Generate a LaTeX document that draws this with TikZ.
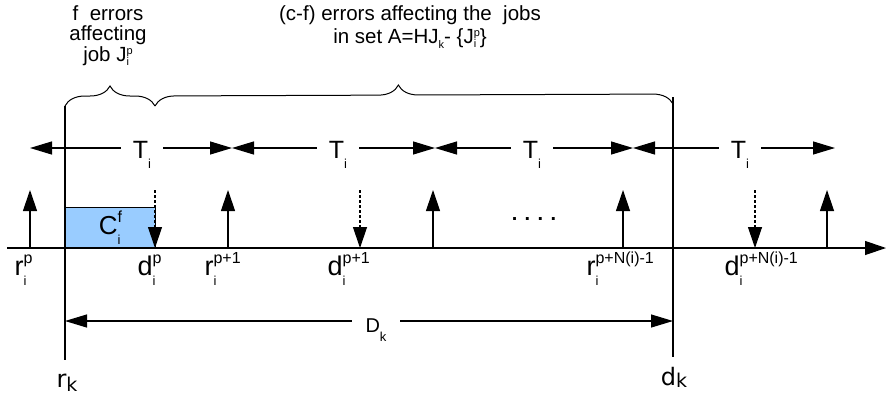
\documentclass[tikz,border=0pt]{standalone}
\usepackage{fontspec}
\setmainfont{Liberation Sans}
\newfontfamily\dejavu{DejaVu Sans}
\usetikzlibrary{arrows.meta,decorations.pathreplacing}

\definecolor{boxblue}{HTML}{99CCFF}

\newcommand{\subfont}{\fontsize{13}{13}\selectfont}
\newcommand{\supfont}{\fontsize{16}{16}\selectfont}
\newcommand{\ix}[3]{#1\rlap{\raisebox{-10pt}{\subfont #2}}\raisebox{12pt}{\supfont #3}}
\newcommand{\sub}[2]{#1\raisebox{-10pt}{\subfont #2}}
\newcommand{\txfont}{\fontsize{11}{11}\selectfont}
\newcommand{\tx}[3]{#1\rlap{\raisebox{-4pt}{\txfont #2}}\raisebox{7pt}{\txfont #3}}

\begin{document}
\begin{tikzpicture}[x=1pt,y=-1pt,line width=1.2pt,
  arr/.style={-{Triangle[length=21pt,width=14pt]}},
  period/.style={{Triangle[length=22pt,width=13pt]}-{Triangle[length=22pt,width=13pt]}},
  due/.style={arr,dash pattern=on 3pt off 2pt},
  gap/.style={fill=white,inner xsep=12pt,inner ysep=2pt,anchor=base},
  lbl/.style={anchor=base west,inner sep=0pt,font=\fontsize{27}{27}\selectfont},
  curly/.style={decorate,decoration={brace,amplitude=20pt}}]
\useasboundingbox (0,0) rectangle (890,397);

% execution of the job
\node[draw,line width=0.8pt,fill=boxblue,anchor=south west,minimum width=90pt,minimum height=40pt,inner sep=0pt,font=\fontsize{26}{26}\selectfont] (cbox) at (65,248) {\ix{C}{i}{f}};

% time axis
\coordinate (a0) at (7,248);
\coordinate (a1) at (886,248);
\draw[arr] (a0) -- (a1);

% release times
\foreach \x/\n in {30/1,228/2,433/3,623/4,827/5} {
  \coordinate (r\n) at (\x,248);
  \coordinate (rt\n) at (\x,190);
  \draw[arr] (r\n) -- (rt\n);
}
% deadlines
\foreach \x/\n in {155/1,360/2,755/3} {
  \coordinate (dt\n) at (\x,190);
  \coordinate (d\n) at (\x,248);
  \draw[due] (dt\n) -- (d\n);
}

\node[lbl] (lr1) at (14,275) {\ix{r}{i}{p}};
\node[lbl] (ld1) at (137,275) {\ix{d}{i}{p}};
\node[lbl] (lr2) at (204,275) {\ix{r}{i}{p+1}};
\node[lbl] (ld2) at (327,275) {\ix{d}{i}{p+1}};
\node[lbl] (lr4) at (586,275) {\ix{r}{i}{p+N(i)-1}};
\node[lbl] (ld3) at (724,275) {\ix{d}{i}{p+N(i)-1}};
\node[font=\bfseries\fontsize{20}{20}\selectfont] (dots) at (534,219) {. . . .};

% window of the busy period
\coordinate (rkt) at (65,106);
\coordinate (rkb) at (65,360);
\coordinate (dkt) at (673,97);
\coordinate (dkb) at (673,357);
\draw (rkt) -- (rkb);
\draw (dkt) -- (dkb);
\node[anchor=base,inner sep=0pt,font=\dejavu\fontsize{24}{24}\selectfont] (rk) at (67,387) {r\raisebox{-4pt}{\fontsize{19}{19}\selectfont k}};
\node[anchor=base,inner sep=0pt,font=\dejavu\fontsize{24}{24}\selectfont] (dk) at (674,385) {d\raisebox{-2pt}{\fontsize{19}{19}\selectfont k}};

\coordinate (Dl) at (65,321);
\coordinate (Dr) at (673,321);
\draw[period] (Dl) -- (Dr);
\node[gap,inner xsep=14pt,font=\fontsize{20}{20}\selectfont] (Dk) at (376,332) {D\raisebox{-9pt}{\subfont k}};

% periods
\foreach \x/\n in {30/0,232/1,435/2,633/3,835/4}
  \coordinate (t\n) at (\x,148);
\draw[period] (t0) -- (t1);
\draw[period] (t1) -- (t2);
\draw[period] (t2) -- (t3);
\draw[period] (t3) -- (t4);
\foreach \x/\n in {142/1,338/2,532/3,740/4}
  \node[gap,font=\fontsize{25}{25}\selectfont] (T\n) at (\x,158) {\sub{T}{i}};

% braces and texts
\draw[curly,line width=1pt] (65,106) -- (155,106);
\draw[curly,line width=1pt,decoration={aspect=0.47}] (155,106) -- (673,104);
\node[anchor=north,inner sep=0pt,align=center,font=\fontsize{20.5}{20.5}\selectfont] (fjob) at (108,5) {f~ errors\\affecting\\job \tx{J}{i}{p}};
\node[anchor=north,inner sep=0pt,align=center,font=\fontsize{20.5}{23}\selectfont] (cjobs) at (410,5) {(c-f) errors affecting the~ jobs\\in set A=HJ\raisebox{-5pt}{\txfont k}- \{\tx{J}{i}{p}\}};
\end{tikzpicture}
\end{document}
